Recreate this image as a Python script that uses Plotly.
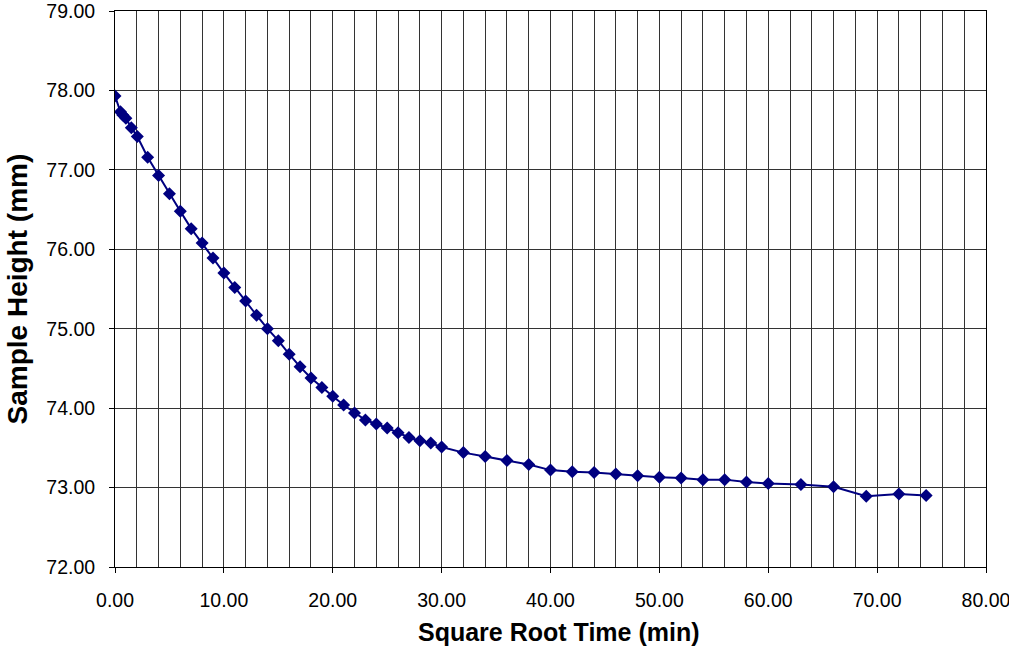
import plotly.graph_objects as go

# Square root of elapsed time (min) and measured sample height (mm)
sqrt_time = [0.0, 0.5, 0.71, 1.0, 1.5, 2.05, 3.0, 4.0,
             5, 6, 7, 8, 9, 10, 11, 12, 13, 14, 15, 16, 17, 18, 19, 20,
             21, 22, 23, 24, 25, 26, 27, 28, 29, 30,
             32, 34, 36, 38, 40, 42, 44, 46, 48, 50, 52, 54, 56, 58, 60,
             63, 66, 69, 72, 74.5]
sample_height = [77.93, 77.73, 77.69, 77.65, 77.53, 77.42, 77.16, 76.93,
                 76.70, 76.48, 76.26, 76.08, 75.89, 75.70, 75.52, 75.35, 75.17, 75.00,
                 74.85, 74.68, 74.52, 74.38, 74.26, 74.15,
                 74.04, 73.94, 73.85, 73.80, 73.75, 73.69, 73.63, 73.59, 73.56, 73.51,
                 73.44, 73.39, 73.34, 73.29, 73.22, 73.20, 73.19, 73.17, 73.15, 73.13,
                 73.12, 73.10, 73.10, 73.07, 73.05,
                 73.04, 73.01, 72.89, 72.92, 72.90]

x_ticks = [0, 10, 20, 30, 40, 50, 60, 70, 80]
y_ticks = [72, 73, 74, 75, 76, 77, 78, 79]

fig = go.Figure()
fig.add_trace(go.Scatter(
    x=sqrt_time, y=sample_height, mode="lines+markers",
    line=dict(color="#000080", width=2),
    marker=dict(symbol="diamond", size=10, color="#000080"),
    showlegend=False,
))

font_family = "Liberation Sans, Arial, sans-serif"
fig.update_layout(
    width=1009, height=651,
    margin=dict(l=115, r=23, t=11, b=84),
    paper_bgcolor="white", plot_bgcolor="white",
    font=dict(family=font_family, size=19.5, color="black"),
    xaxis=dict(
        range=[0, 80], tickvals=x_ticks,
        ticktext=[f"{v:.2f}" for v in x_ticks],
        ticks="outside", ticklen=5, tickcolor="black",
        ticklabelstandoff=11, ticklabeloverflow="allow",
        showgrid=True, gridcolor="#333333", gridwidth=1,
        minor=dict(dtick=2, showgrid=True, gridcolor="#333333", gridwidth=1),
        showline=True, linecolor="black", linewidth=1, mirror=True,
        zeroline=False, automargin=False,
    ),
    yaxis=dict(
        range=[72, 79], tickvals=y_ticks,
        ticktext=[f"{v:.2f}" for v in y_ticks],
        ticks="outside", ticklen=5, tickcolor="black",
        ticklabelstandoff=10, ticklabeloverflow="allow",
        showgrid=True, gridcolor="#333333", gridwidth=1,
        showline=True, linecolor="black", linewidth=1, mirror=True,
        zeroline=False, automargin=False,
    ),
    annotations=[
        dict(text="<b>Square Root Time (min)</b>", xref="paper", yref="paper",
             x=0.51, y=-0.117, xanchor="center", yanchor="middle",
             showarrow=False, font=dict(size=25)),
        dict(text="<b>Sample Height (mm)</b>", xref="paper", yref="paper",
             x=-0.112, y=0.5, xanchor="center", yanchor="middle",
             textangle=-90, showarrow=False, font=dict(size=28)),
    ],
)

fig.write_html("out.html")
